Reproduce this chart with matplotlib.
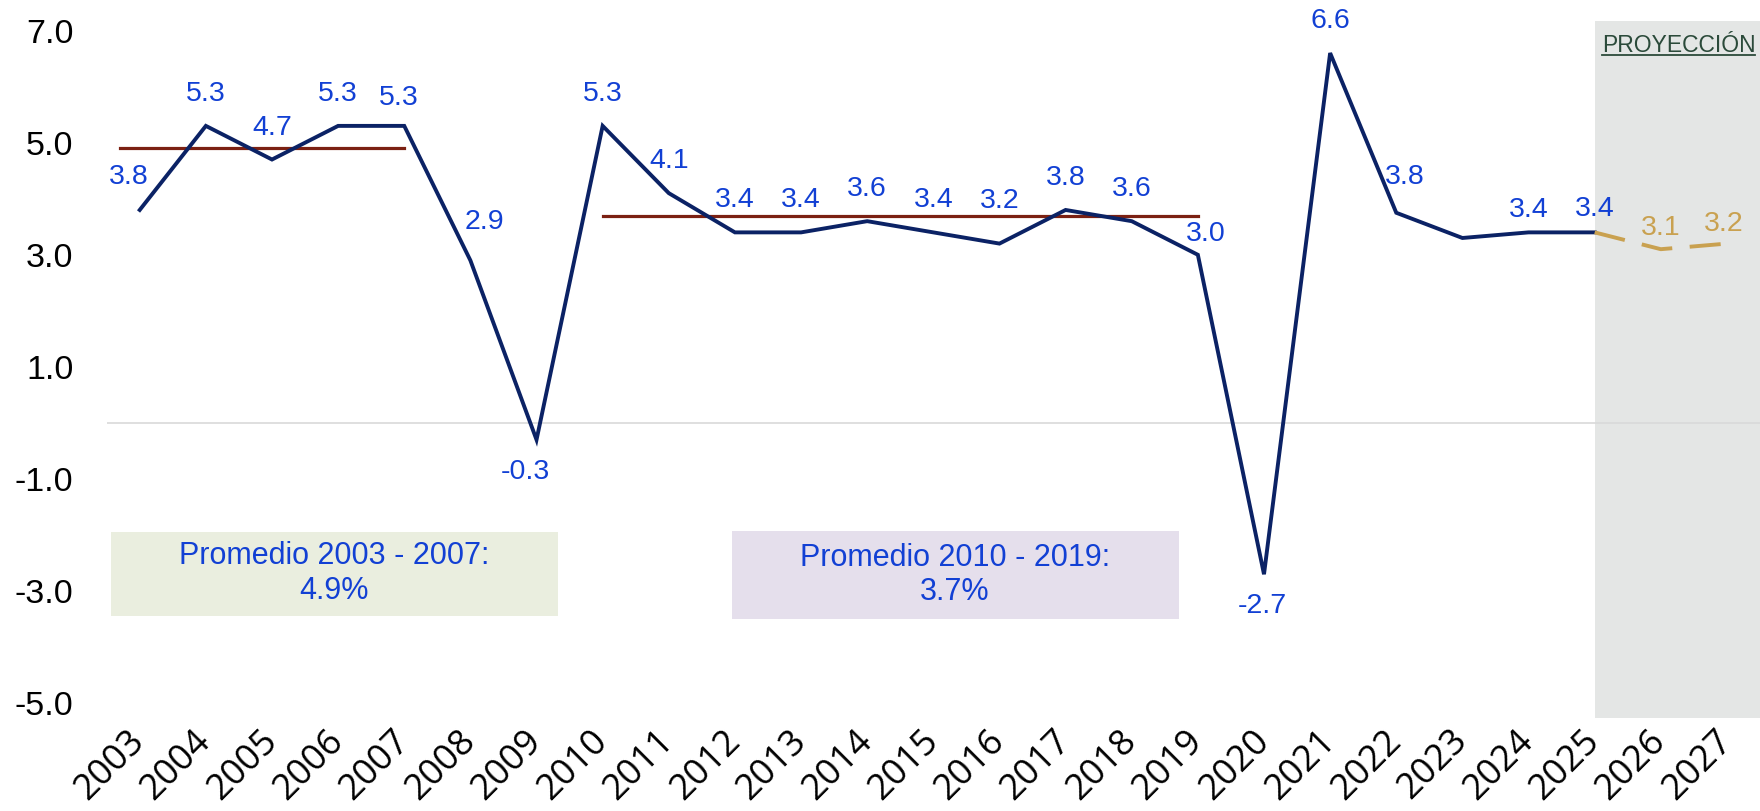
import numpy as np
import matplotlib.pyplot as plt
from matplotlib.lines import Line2D

# data
years = list(range(2003, 2028))
growth = [3.8, 5.3, 4.7, 5.3, 5.3, 2.9, -0.3, 5.3, 4.1, 3.4, 3.4, 3.6, 3.4, 3.2,
          3.8, 3.6, 3.0, -2.7, 6.6, 3.75, 3.3, 3.4, 3.4, 3.1, 3.2]
proj_start = 2025
avg_periods = [(2003, 2007, 4.9), (2010, 2019, 3.7)]
yticks = [-5, -3, -1, 1, 3, 5, 7]

# label offsets in points (dx, dy); None -> no label
default_off = (0, 23)
label_off = {2003: (-8, 24), 2007: (-4, 20), 2008: (10, 28), 2009: (-8, -23),
             2016: (0, 31), 2019: (6, 15), 2020: (-1, -23), 2022: (6, 26),
             2023: None, 2024: (0, 16), 2025: (0, 17), 2026: (0, 15), 2027: (-2, 14)}

navy = '#0b2265'
blue = '#1240d4'
gold = '#c9a150'
darkred = '#7b2012'
shade = '#e4e6e5'
font = 'Liberation Sans'

fig = plt.figure(figsize=(17.6, 8.11), dpi=100)
ax = fig.add_axes([0.0606, 0.115, 0.9394, 0.859])

x = np.arange(len(years))
ip = years.index(proj_start)

ax.axvspan(ip, len(years) - 0.5, color=shade, zorder=0, lw=0)
ax.axhline(0, color='#d9d9d9', lw=1.2, zorder=1)

ax.plot(x[:ip + 1], growth[:ip + 1], color=navy, lw=2.8, zorder=3,
        solid_joinstyle='miter')
ax.plot(x[ip:], growth[ip:], color=gold, lw=2.8, zorder=3,
        dashes=(8, 4.5))

for y0, y1, val in avg_periods:
    i0, i1 = years.index(y0), years.index(y1)
    if y0 == 2003:
        i0 = i0 - 0.3
    ax.plot([i0, i1], [val, val], color=darkred, lw=2.3, zorder=2)

for i, (yr, v) in enumerate(zip(years, growth)):
    off = label_off.get(yr, default_off)
    if off is None:
        continue
    col = gold if yr > proj_start else blue
    ax.annotate(f"{v:.1f}", (i, v), xytext=off, textcoords='offset points',
                ha='center', va='center', fontsize=20.5, color=col,
                family=font, zorder=4, annotation_clip=False)

# average boxes
boxes = [(-0.44, 6.33, -3.44, -1.94, '#eaeedf', 'Promedio 2003 - 2007:\n4.9%'),
         (8.95, 15.71, -3.5, -1.92, '#e5dfec', 'Promedio 2010 - 2019:\n3.7%')]
for bx0, bx1, by0, by1, fc, txt in boxes:
    ax.fill_between([bx0, bx1], by0, by1, color=fc, lw=0, zorder=1)
    ax.text((bx0 + bx1) / 2, (by0 + by1) / 2, txt, ha='center', va='center',
            fontsize=22, color=blue, family=font, linespacing=1.2, zorder=2)

ax.set_xlim(-0.5, len(years) - 0.5)
ax.set_ylim(-5.26, 7.17)
ax.set_yticks(yticks)
ax.set_yticklabels([f"{v:.1f}" for v in yticks], fontsize=24.5, family=font)
ax.set_xticks(x)
ax.set_xticklabels([str(y) for y in years], rotation=45, ha='right', va='center',
                   rotation_mode='anchor', fontsize=26, family='Open Sans')
ax.tick_params(axis='y', length=0, pad=24)
ax.tick_params(axis='x', length=0, pad=13)
for s in ax.spines.values():
    s.set_visible(False)

# projection label with underline
t = ax.text(23.27, 6.74, 'PROYECCIÓN', ha='center', va='center', fontsize=16.5,
            color='#2b4a3a', family=font, zorder=4)
fig.canvas.draw()
bb = t.get_window_extent().transformed(ax.transAxes.inverted())
ax.add_line(Line2D([bb.x0, bb.x1], [bb.y0 + 0.002, bb.y0 + 0.002],
                   transform=ax.transAxes, color='#2b4a3a', lw=1.3))

fig.savefig('out.png', dpi=100)
